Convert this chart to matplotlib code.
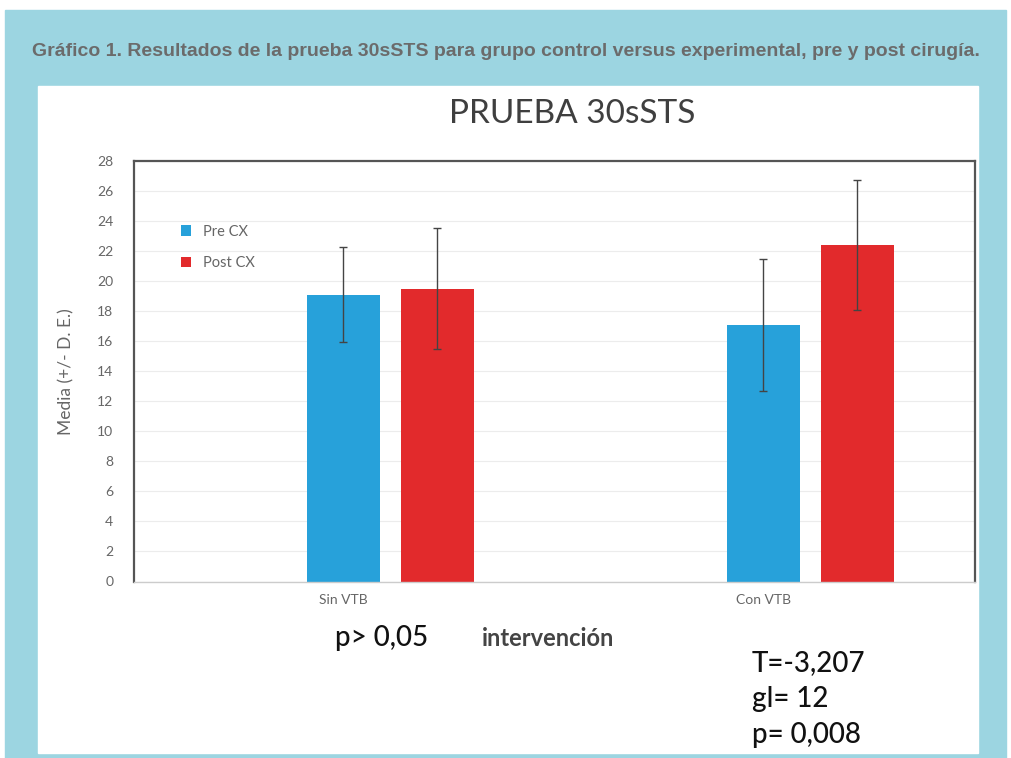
import matplotlib.pyplot as plt
from matplotlib.patches import Rectangle
import numpy as np

groups = ['Sin VTB', 'Con VTB']
series = ['Pre CX', 'Post CX']
pre_mean = [19.1, 17.1]
pre_sd = [3.15, 4.4]
post_mean = [19.5, 22.4]
post_sd = [4.05, 4.35]
y_ticks = list(range(0, 29, 2))

blue = '#27A1DA'
red = '#E22A2C'
panel = '#9CD5E1'
lato = ['Lato', 'DejaVu Sans']

fig = plt.figure(figsize=(10.11, 7.58), dpi=100)

# backgrounds: light blue panel and white inner box
fig.patches.append(Rectangle((5 / 1011, 0), 1001 / 1011, 748 / 758,
                             transform=fig.transFigure, color=panel, zorder=-2))
fig.patches.append(Rectangle((38 / 1011, 5 / 758), 940 / 1011, 667 / 758,
                             transform=fig.transFigure, color='white', zorder=-1))

fig.text(0.5, 1 - 52 / 758,
         'Gráfico 1. Resultados de la prueba 30sSTS para grupo control versus experimental, pre y post cirugía.',
         ha='center', va='center', fontsize=14, fontweight='bold', color='#6b6b6b',
         family=['Liberation Sans', 'DejaVu Sans'])

ax = fig.add_axes([134 / 1011, 1 - 581.5 / 758, 841 / 1011, 420.5 / 758])

x = np.arange(len(groups))
w = 0.174
off = 0.112
err_kw = dict(ecolor='#444444', elinewidth=1, capsize=3, capthick=1)
ax.bar(x - off, pre_mean, w, yerr=pre_sd, color=blue, label=series[0], error_kw=err_kw, zorder=2)
ax.bar(x + off, post_mean, w, yerr=post_sd, color=red, label=series[1], error_kw=err_kw, zorder=2)

ax.set_xlim(-0.611, 1.393)
ax.set_ylim(0, 28)
ax.set_yticks(y_ticks)
ax.set_xticks(x - off)
ax.set_xticklabels(groups)
ax.tick_params(axis='both', length=0, labelsize=10, colors='#666666')
ax.tick_params(axis='y', pad=15)
ax.tick_params(axis='x', pad=9)
for lbl in ax.get_yticklabels() + ax.get_xticklabels():
    lbl.set_family(lato)
ax.grid(axis='y', color='#ececec', linewidth=0.8, zorder=0)
ax.set_axisbelow(True)
for s in ['left', 'top', 'right']:
    ax.spines[s].set_color('#555555')
    ax.spines[s].set_linewidth(1.6)
ax.spines['bottom'].set_color('#cccccc')
ax.spines['bottom'].set_linewidth(1)

ax.set_ylabel('Media (+/- D. E.)', fontsize=12.5, color='#666666', labelpad=16, family=lato)

leg = ax.legend(loc='upper left', bbox_to_anchor=(0.04, 0.88), frameon=False,
                handlelength=0.7, handleheight=0.7, labelspacing=1.2,
                prop={'family': lato, 'size': 10.5})
for t in leg.get_texts():
    t.set_color('#666666')

fig.text(572 / 1011, 1 - 114 / 758, 'PRUEBA 30sSTS', ha='center', va='center',
         fontsize=24, color='#3f3f3f', family=lato)

fig.text(335 / 1011, 1 - 638 / 758, 'p> 0,05', ha='left', va='center', fontsize=20,
         fontweight='medium', color='#111111', family=lato)
fig.text(482 / 1011, 1 - 638 / 758, 'intervención', ha='left', va='center', fontsize=17,
         fontweight='bold', color='#444444', family=lato)
for i, s in enumerate(['T=-3,207', 'gl= 12', 'p= 0,008']):
    fig.text(752 / 1011, 1 - (663 + i * 36) / 758, s, ha='left', va='center', fontsize=20,
             fontweight='medium', color='#111111', family=lato)

fig.savefig('out.png', dpi=100)
